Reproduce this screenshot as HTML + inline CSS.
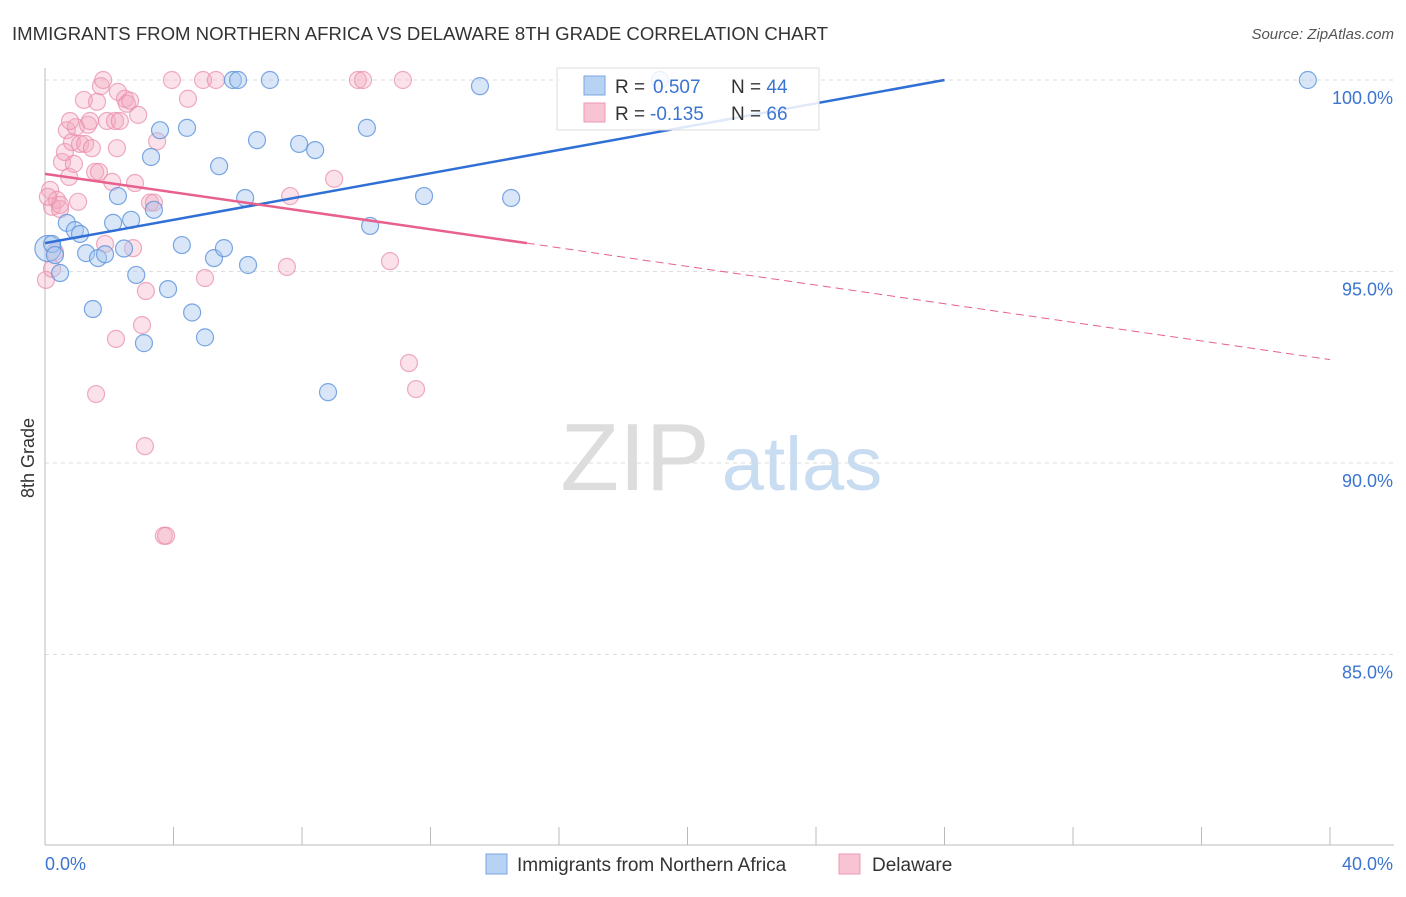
<!DOCTYPE html>
<html><head><meta charset="utf-8">
<style>
body{margin:0;background:#fff;font-family:"Liberation Sans",sans-serif;}
svg text{font-family:"Liberation Sans",sans-serif;}
</style></head>
<body>
<svg id="chart" width="1406" height="892" xmlns="http://www.w3.org/2000/svg">
<text x="12" y="40" font-size="18.6" fill="#333" textLength="816" lengthAdjust="spacingAndGlyphs">IMMIGRANTS FROM NORTHERN AFRICA VS DELAWARE 8TH GRADE CORRELATION CHART</text>
<text x="1394" y="39" font-size="15" fill="#555" font-style="italic" text-anchor="end">Source: ZipAtlas.com</text>
<text x="34" y="458" font-size="18" fill="#333" transform="rotate(-90 34 458)" text-anchor="middle">8th Grade</text>
<g>
<text x="635" y="490" font-size="96" fill="#ddd" font-family="Liberation Serif" text-anchor="middle">ZIP</text>
<text x="802" y="490" font-size="76" fill="#c8dcf2" text-anchor="middle">atlas</text>
</g>
<g id="grid"></g>
<g id="axes"></g>
<g id="pts"></g>
<g id="trends"></g>
<g>
<rect x="557" y="68" width="262" height="62" fill="#fff" fill-opacity="0.85" stroke="#ddd"/>
<rect x="584" y="76" width="21" height="19" fill="#b8d2f4" stroke="#7aa6e2"/>
<rect x="584" y="103" width="21" height="19" fill="#f8c4d4" stroke="#eb9ab4"/>
<text x="615" y="93" font-size="19" fill="#333">R = </text>
<text x="653" y="93" font-size="19" fill="#3b74d1">0.507</text>
<text x="731" y="93" font-size="19" fill="#333">N = <tspan fill="#3b74d1">44</tspan></text>
<text x="615" y="120" font-size="19" fill="#333">R = </text>
<text x="650" y="120" font-size="19" fill="#3b74d1">-0.135</text>
<text x="731" y="120" font-size="19" fill="#333">N = <tspan fill="#3b74d1">66</tspan></text>
</g>
<g>
<rect x="486" y="854" width="21" height="20" fill="#b8d2f4" stroke="#7aa6e2"/>
<text x="517" y="871" font-size="19" fill="#333">Immigrants from Northern Africa</text>
<rect x="839" y="854" width="21" height="20" fill="#f8c4d4" stroke="#eb9ab4"/>
<text x="872" y="871" font-size="19" fill="#333">Delaware</text>
</g>
</svg>
<script>
const yTicks=[100,95,90,85];
const yTickLabels=["100.0%","95.0%","90.0%","85.0%"];
const xTicks=[0,4,8,12,16,20,24,28,32,36,40];
const xEndLabels=["0.0%","40.0%"];
const blueX=[0.09,0.47,0.68,0.93,1.09,1.28,1.49,1.65,1.87,2.12,2.27,2.46,2.68,2.84,3.08,3.30,3.39,3.58,3.83,4.26,4.42,4.58,4.98,5.26,5.42,5.57,5.85,6.01,6.23,6.32,6.60,7.00,7.91,8.41,8.81,10.02,10.12,11.80,13.54,14.51,19.14,39.31,0.22,0.31];
const blueY=[95.6,94.96,96.27,96.08,95.98,95.48,94.02,95.35,95.45,96.27,96.97,95.6,96.35,94.91,93.13,97.99,96.61,98.69,94.54,95.69,98.75,93.93,93.28,95.35,97.75,95.61,100,100,96.92,95.17,98.43,100,98.33,98.17,91.85,98.75,96.19,96.97,99.84,96.92,100,100,95.72,95.43];
const pinkX=[0.03,0.16,0.22,0.31,0.37,0.47,0.53,0.62,0.68,0.75,0.84,0.90,0.96,1.03,1.09,1.21,1.25,1.34,1.40,1.46,1.56,1.59,1.62,1.68,1.74,1.81,1.87,1.93,2.09,2.18,2.24,2.27,2.33,2.49,2.55,2.65,2.74,2.80,2.90,3.02,3.11,3.14,3.27,3.39,3.49,3.70,3.77,3.95,4.45,4.92,4.98,5.32,7.53,7.63,9.00,9.74,9.90,10.74,11.14,11.33,11.55,2.21,0.47,0.09,0.22,0.78];
const pinkY=[94.78,97.13,96.69,95.51,96.87,96.63,97.86,98.12,98.69,97.47,98.38,97.81,98.77,96.82,98.33,99.48,98.33,98.83,98.93,98.22,97.6,91.8,99.43,97.6,99.84,100,95.72,98.93,97.34,98.93,98.22,99.69,98.93,99.51,99.38,99.46,95.61,97.31,99.09,93.6,90.44,94.49,96.8,96.8,98.4,88.1,88.1,100,99.51,100,94.83,100,95.12,96.97,97.42,100,100,95.27,100,92.61,91.93,93.24,96.74,96.95,95.07,98.93];
const blueTrend=[0,95.74,28,100];
const pinkTrend=[0,97.55,15,95.74,40,92.7];
const NS="http://www.w3.org/2000/svg";
const X=v=>45+v/40*1285, Y=v=>80+(100-v)*38.3;
function mk(tag,attrs,parent){const e=document.createElementNS(NS,tag);for(const k in attrs)e.setAttribute(k,attrs[k]);parent.appendChild(e);return e;}
const grid=document.getElementById('grid'),axes=document.getElementById('axes'),pts=document.getElementById('pts'),tr=document.getElementById('trends');
yTicks.forEach((t,i)=>{
 const l=mk('line',{x1:45,x2:1394,y1:Y(t),y2:Y(t),stroke:'#ddd','stroke-dasharray':'4,4'},grid);
 
 
 const tx=mk('text',{x:1393,y:Y(t)+24,'font-size':18,fill:'#3b74d1','text-anchor':'end'},axes);
 tx.textContent=yTickLabels[i];
 
 
});
const ya=mk('line',{x1:45,x2:45,y1:68,y2:845,stroke:'#bbb'},axes);


const xa=mk('line',{x1:45,x2:1394,y1:845,y2:845,stroke:'#bbb'},axes);


xTicks.forEach(t=>{
 const l=mk('line',{x1:X(t),x2:X(t),y1:827,y2:845,stroke:'#bbb'},axes);
 
 
});
const xl0=mk('text',{x:45,y:870,'font-size':18,fill:'#3b74d1'},axes);xl0.textContent=xEndLabels[0];


const xl1=mk('text',{x:1393,y:870,'font-size':18,fill:'#3b74d1','text-anchor':'end'},axes);xl1.textContent=xEndLabels[1];


pinkX.forEach((v,i)=>{
 const c=mk('circle',{cx:X(v),cy:Y(pinkY[i]),r:8.5,fill:'#f4a8c0','fill-opacity':0.35,stroke:'#e88aaa','stroke-opacity':0.7,'stroke-width':1.2},pts);
 
 
});
blueX.forEach((v,i)=>{
 const c=mk('circle',{cx:X(v),cy:Y(blueY[i]),r:i==0?13:8.5,fill:'#a8c8f0','fill-opacity':0.45,stroke:'#5b92dc','stroke-opacity':0.8,'stroke-width':1.2},pts);
 
 
});
const bl=mk('line',{x1:X(blueTrend[0]),y1:Y(blueTrend[1]),x2:X(blueTrend[2]),y2:Y(blueTrend[3]),stroke:'#2f6fd6','stroke-width':2.5},tr);


const pl=mk('line',{x1:X(pinkTrend[0]),y1:Y(pinkTrend[1]),x2:X(pinkTrend[2]),y2:Y(pinkTrend[3]),stroke:'#e8608c','stroke-width':2.5},tr);


const pd=mk('line',{x1:X(pinkTrend[2]),y1:Y(pinkTrend[3]),x2:X(pinkTrend[4]),y2:Y(pinkTrend[5]),stroke:'#e8608c','stroke-width':1,'stroke-dasharray':'8,5'},tr);


</script>
</body></html>
